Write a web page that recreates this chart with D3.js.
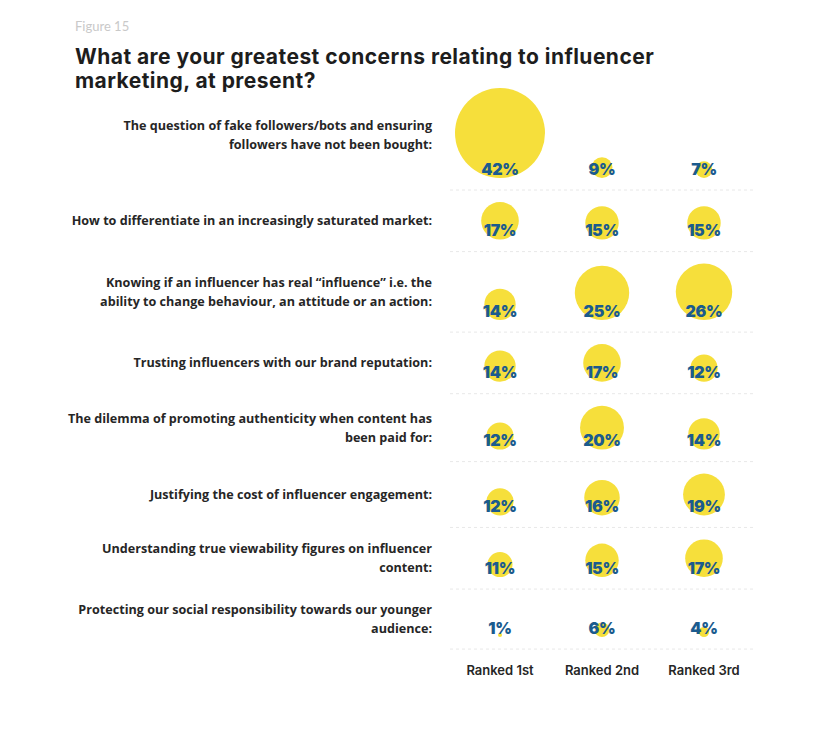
<!DOCTYPE html>
<html>
<head>
<meta charset="utf-8">
<script src="https://cdn.jsdelivr.net/npm/d3@7"></script>
<style>
  body { margin: 0; background: #fff; }
</style>
</head>
<body>
<div id="chart"></div>
<script>
// Survey concerns, share of respondents ranking each concern 1st / 2nd / 3rd
const concerns = [
  ["The question of fake followers/bots and ensuring", "followers have not been bought:"],
  ["How to differentiate in an increasingly saturated market:"],
  ["Knowing if an influencer has real \u201cinfluence\u201d i.e. the", "ability to change behaviour, an attitude or an action:"],
  ["Trusting influencers with our brand reputation:"],
  ["The dilemma of promoting authenticity when content has", "been paid for:"],
  ["Justifying the cost of influencer engagement:"],
  ["Understanding true viewability figures on influencer", "content:"],
  ["Protecting our social responsibility towards our younger", "audience:"]
];
const ranks = ["Ranked 1st", "Ranked 2nd", "Ranked 3rd"];
const ranked1st = [42, 17, 14, 14, 12, 12, 11, 1];
const ranked2nd = [9, 15, 25, 17, 20, 16, 15, 6];
const ranked3rd = [7, 15, 26, 12, 14, 19, 17, 4];

const width = 833, height = 740;
const series = [ranked1st, ranked2nd, ranked3rd];

const svg = d3.select("#chart").append("svg")
    .attr("width", width)
    .attr("height", height);

// Header
svg.append("text")
    .attr("x", 75).attr("y", 31)
    .attr("font-family", "Lato, sans-serif")
    .attr("font-size", 13)
    .attr("fill", "#c9c9c9")
    .text("Figure 15");

const title = svg.append("text")
    .attr("font-family", "Inter, sans-serif")
    .attr("font-weight", 700)
    .attr("font-size", 21)
    .attr("letter-spacing", 0.45)
    .attr("fill", "#1d1d1d");
title.append("tspan").attr("x", 75).attr("y", 64)
    .text("What are your greatest concerns relating to influencer");
title.append("tspan").attr("x", 75).attr("y", 88)
    .text("marketing, at present?");

// Scales
const x = d3.scalePoint()
    .domain(ranks)
    .range([500, 704]);
const r = d3.scaleLinear()
    .domain([0, 42])
    .range([1, 45]);

// Row layout: each row is tall enough for its largest bubble
const rowMax = concerns.map((c, i) => d3.max(series, s => s[i]));
const rowHeights = rowMax.map((m, i) => i === 0 ? 2 * r(m) + 14 : Math.max(2 * r(m) + 24, 60));
const rowBottoms = d3.cumsum(rowHeights).map(v => v + 190 - rowHeights[0]);
const rowTops = rowBottoms.map((b, i) => b - rowHeights[i]);

// Separators
svg.selectAll(".sep")
    .data(rowBottoms)
    .join("line")
    .attr("class", "sep")
    .attr("x1", 450).attr("x2", 756)
    .attr("y1", d => d).attr("y2", d => d)
    .attr("stroke", "#e8e8e8")
    .attr("stroke-width", 1)
    .attr("stroke-dasharray", "3,3");

// Row labels, right aligned and vertically centred in the row
const labels = svg.selectAll(".label")
    .data(concerns)
    .join("text")
    .attr("class", "label")
    .attr("text-anchor", "end")
    .attr("font-family", "'Open Sans', sans-serif")
    .attr("font-weight", 700)
    .attr("font-size", 12.6)
    .attr("fill", "#262626");
labels.each(function(lines, i) {
    const top = i === 0 ? 80 : rowTops[i];
    const mid = (top + rowBottoms[i]) / 2;
    const lh = 19;
    const first = mid - (lines.length - 1) * lh / 2 + 4.5;
    d3.select(this).selectAll("tspan")
        .data(lines)
        .join("tspan")
        .attr("x", 432)
        .attr("y", (d, j) => first + j * lh)
        .text(d => d);
});

// Bubbles and values
series.forEach((values, k) => {
    const g = svg.append("g");
    g.selectAll("circle")
        .data(values)
        .join("circle")
        .attr("cx", x(ranks[k]))
        .attr("cy", (d, i) => rowBottoms[i] - 12 - r(d))
        .attr("r", d => r(d))
        .attr("fill", "#f6df3b");
    g.selectAll("text")
        .data(values)
        .join("text")
        .attr("x", x(ranks[k]))
        .attr("y", (d, i) => rowBottoms[i] - 15.5)
        .attr("text-anchor", "middle")
        .attr("font-family", "Inter, sans-serif")
        .attr("font-weight", 900)
        .attr("font-size", 16)
        .attr("letter-spacing", -0.3)
        .attr("fill", "#1b5b8e")
        .text(d => d + "%");
});

// Column labels
svg.selectAll(".rank")
    .data(ranks)
    .join("text")
    .attr("class", "rank")
    .attr("x", d => x(d))
    .attr("y", 675)
    .attr("text-anchor", "middle")
    .attr("font-family", "Inter, sans-serif")
    .attr("font-weight", 600)
    .attr("font-size", 13)
    .attr("fill", "#262626")
    .text(d => d);
</script>
</body>
</html>
